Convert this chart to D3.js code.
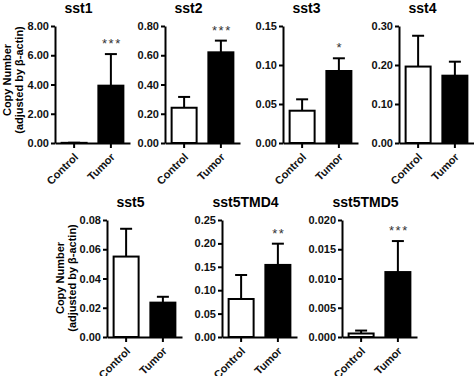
<!DOCTYPE html>
<html>
<head>
<meta charset="utf-8">
<script src="https://cdn.jsdelivr.net/npm/d3@7"></script>
<style>
  body { margin: 0; background: #fff; }
  svg { display: block; font-family: "Liberation Sans", Arial, sans-serif; }
</style>
</head>
<body>
<div id="chart"></div>
<script>
// data (mean and upper error bar, adjusted copy number)
const genes = ["sst1", "sst2", "sst3", "sst4", "sst5", "sst5TMD4", "sst5TMD5"];
const groups = ["Control", "Tumor"];
const controlMean = [0.01, 0.241, 0.0414, 0.196, 0.055, 0.0812, 0.0006];
const controlErr  = [0.02, 0.315, 0.056, 0.275, 0.074, 0.1325, 0.0011];
const tumorMean   = [3.92, 0.62, 0.0923, 0.1726, 0.0235, 0.154, 0.0111];
const tumorErr    = [6.08, 0.70, 0.1086, 0.2085, 0.0275, 0.1994, 0.0164];
const yMax        = [8, 0.8, 0.15, 0.3, 0.08, 0.25, 0.02];
const yStep       = [2, 0.2, 0.05, 0.1, 0.02, 0.05, 0.005];
const yFormat     = [".2f", ".2f", ".2f", ".2f", ".2f", ".2f", ".3f"];
const stars       = ["***", "***", "*", "", "", "**", "***"];

let win_width = 474, win_height = 376;

let svg = d3.select("#chart")
    .append("svg")
    .attr("width", win_width)
    .attr("height", win_height);

// panel placement (left edge of y axis, top of y axis)
let panelX = [55, 165, 283, 399, 107, 222, 342];
let panelY = [26, 26, 26, 26, 220, 220, 220];
let plotH = 117, plotW = 75;

genes.forEach(function(name, i) {
    let g = svg.append("g")
        .attr("transform", "translate(" + panelX[i] + "," + panelY[i] + ")");

    let x = d3.scaleBand().domain(groups).range([0, plotW])
        .paddingInner(0.32).paddingOuter(0.18);
    let y = d3.scaleLinear().domain([0, yMax[i]]).range([plotH, 0]);

    let ticks = d3.range(0, yMax[i] + yStep[i] / 2, yStep[i]);

    // y axis
    let ya = g.append("g")
        .call(d3.axisLeft(y).tickValues(ticks).tickFormat(d3.format(yFormat[i]))
            .tickSize(4).tickSizeOuter(0));
    ya.select(".domain").attr("stroke-width", 2);
    ya.selectAll(".tick line").attr("stroke-width", 2);
    ya.selectAll(".tick text")
        .attr("x", -6)
        .style("font-size", "11px").style("font-weight", "bold").attr("fill", "#111");

    let vals = [
        {grp: "Control", m: controlMean[i], e: controlErr[i]},
        {grp: "Tumor", m: tumorMean[i], e: tumorErr[i]}
    ];

    // error bars (upper only)
    let cap = 6;
    g.selectAll(".err")
        .data(vals)
        .join("line")
        .attr("x1", d => x(d.grp) + x.bandwidth() / 2)
        .attr("x2", d => x(d.grp) + x.bandwidth() / 2)
        .attr("y1", d => y(d.m))
        .attr("y2", d => y(d.e))
        .attr("stroke", "#000").attr("stroke-width", 2);
    g.selectAll(".cap")
        .data(vals)
        .join("line")
        .attr("x1", d => x(d.grp) + x.bandwidth() / 2 - cap)
        .attr("x2", d => x(d.grp) + x.bandwidth() / 2 + cap)
        .attr("y1", d => y(d.e))
        .attr("y2", d => y(d.e))
        .attr("stroke", "#000").attr("stroke-width", 2);

    // bars
    g.selectAll("rect")
        .data(vals)
        .join("rect")
        .attr("x", d => x(d.grp))
        .attr("width", x.bandwidth())
        .attr("y", d => y(d.m))
        .attr("height", d => plotH - y(d.m))
        .attr("fill", d => d.grp == "Control" ? "#fff" : "#000")
        .attr("stroke", "#000").attr("stroke-width", 2);

    // x axis
    let xa = g.append("g")
        .attr("transform", "translate(0," + plotH + ")")
        .call(d3.axisBottom(x).tickSize(5).tickSizeOuter(0));
    xa.select(".domain").attr("stroke-width", 2);
    xa.selectAll(".tick line").attr("stroke-width", 2);
    xa.selectAll(".tick text")
        .attr("x", 0).attr("y", 0).attr("dy", "0.35em")
        .attr("transform", "translate(2,12) rotate(-45)")
        .style("text-anchor", "end")
        .style("font-size", "11px").style("font-weight", "bold").attr("fill", "#111");

    // title, centred over the panel including the tick labels
    g.append("text")
        .attr("x", (plotW - 28) / 2)
        .attr("y", -13)
        .attr("text-anchor", "middle")
        .style("font-size", "14px").style("font-weight", "bold")
        .text(name);

    // significance stars
    if (stars[i] != "") {
        g.append("text")
            .attr("x", x("Tumor") + x.bandwidth() / 2 + 1)
            .attr("y", y(tumorErr[i]) - 6)
            .attr("text-anchor", "middle")
            .style("font-size", "13px").style("letter-spacing", "1.5px")
            .attr("fill", "#333")
            .text(stars[i]);
    }
});

// y axis labels
[[11, 80], [64, 278]].forEach(function(p) {
    let t = svg.append("text")
        .attr("transform", "translate(" + p[0] + "," + p[1] + ") rotate(-90)")
        .attr("text-anchor", "middle")
        .style("font-size", "11px").style("font-weight", "bold");
    t.append("tspan").attr("x", 0).attr("dy", 0).text("Copy Number");
    t.append("tspan").attr("x", 0).attr("dy", "1.1em").text("(adjusted by β-actin)");
});
</script>
</body>
</html>
